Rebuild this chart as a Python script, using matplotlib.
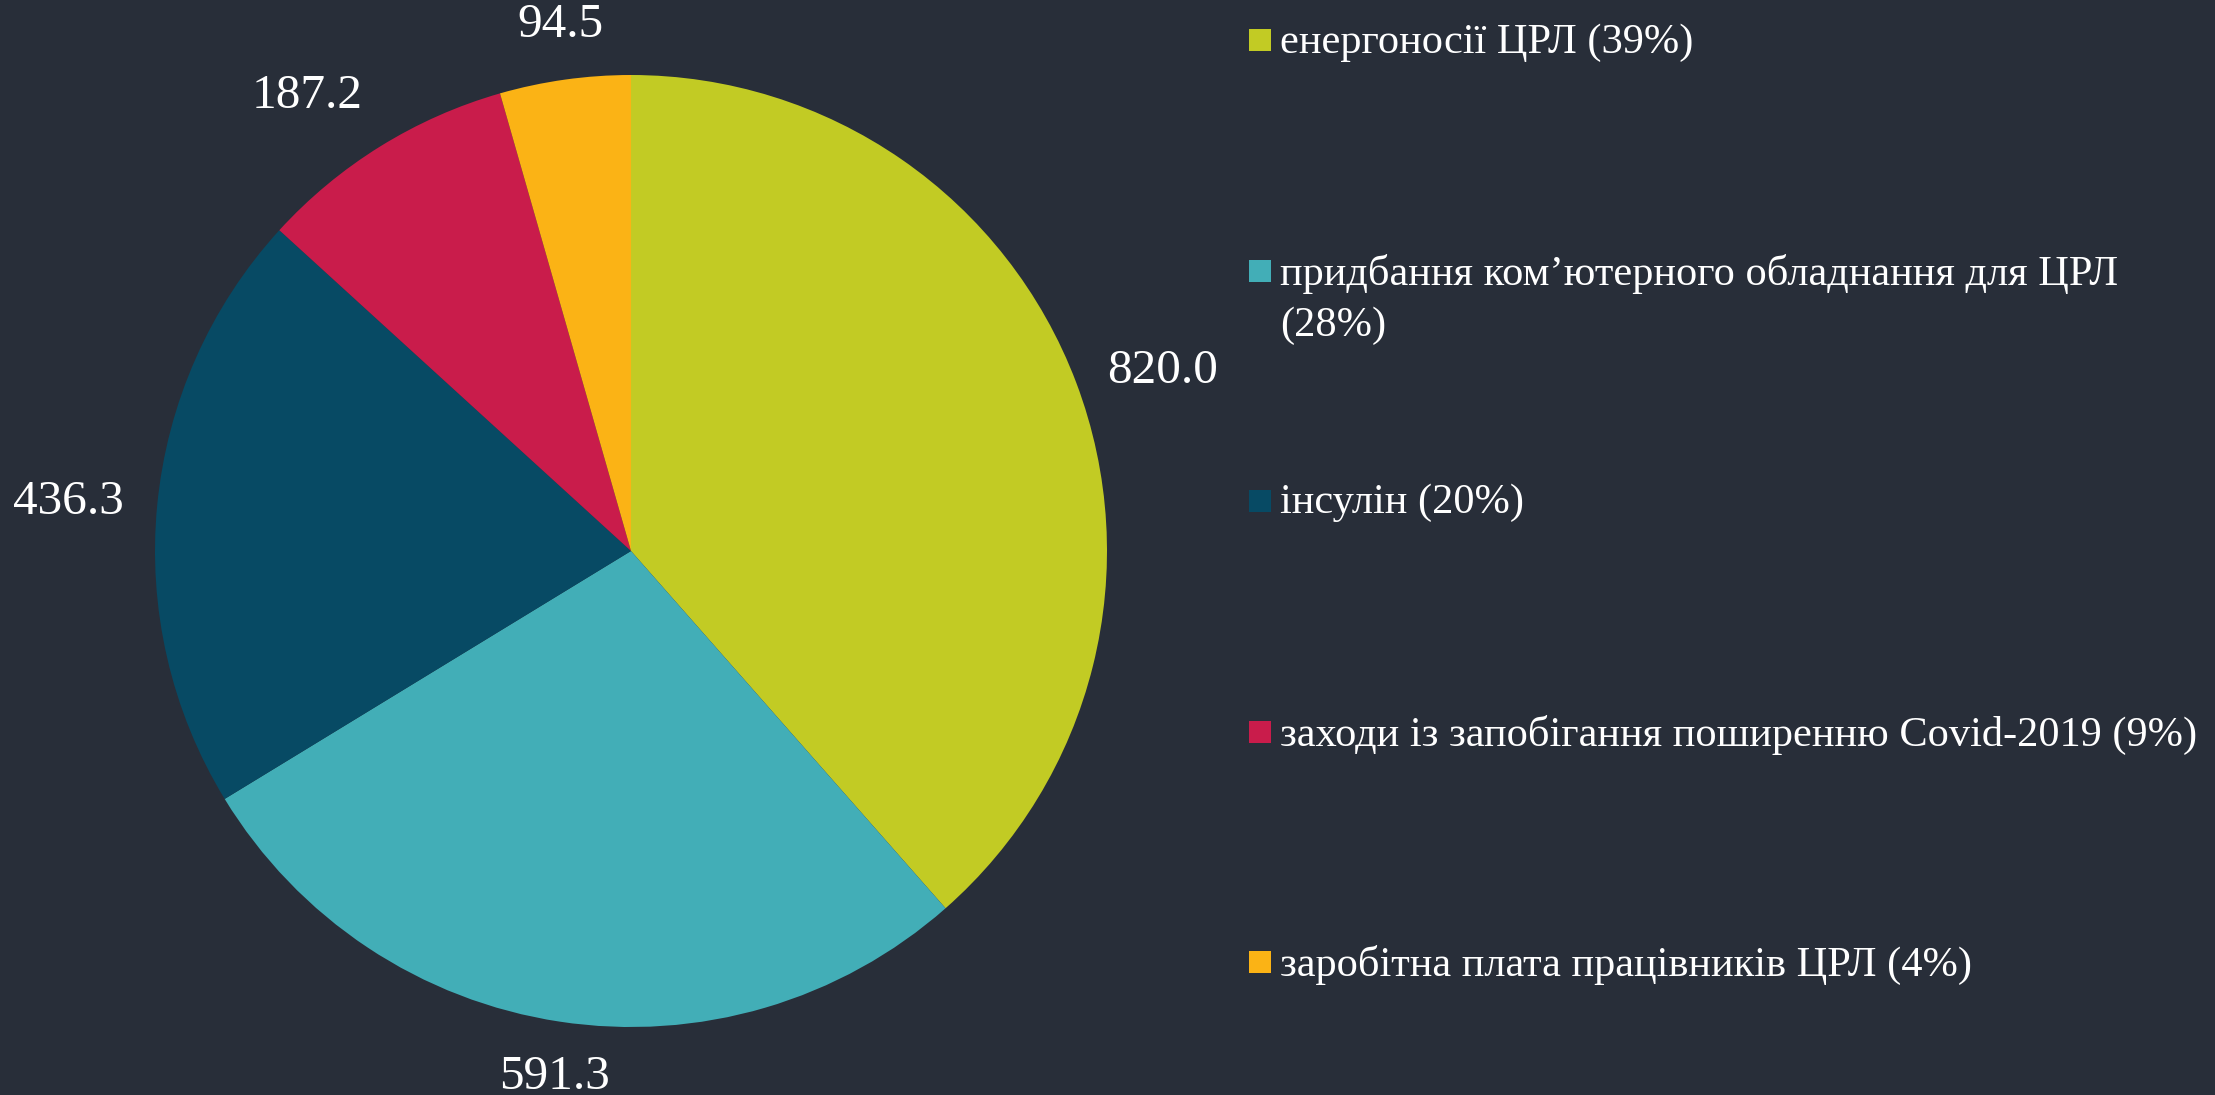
import numpy as np
import matplotlib

matplotlib.use("Agg")
import matplotlib.pyplot as plt
from matplotlib.patches import Rectangle

# data
categories = [
    "енергоносії ЦРЛ",
    "придбання ком’ютерного обладнання для ЦРЛ",
    "інсулін",
    "заходи із запобігання поширенню Covid-2019",
    "заробітна плата працівників ЦРЛ",
]
values = [820.0, 591.3, 436.3, 187.2, 94.5]
shares = [39, 28, 20, 9, 4]
colors = ["#c2cb24", "#42aeb7", "#074a64", "#c91c4b", "#fbb315"]

BG = "#282e39"
W, H = 2215, 1095

plt.rcParams["font.family"] = ["Liberation Serif", "DejaVu Serif"]

fig = plt.figure(figsize=(W / 100, H / 100), dpi=100, facecolor=BG)

# pie: centre (631, 551) px from top-left, radius 476 px
r_px = 476
ax = fig.add_axes([(631 - r_px) / W, (H - 551 - r_px) / H, 2 * r_px / W, 2 * r_px / H])
ax.set_facecolor(BG)
wedges, _ = ax.pie(
    values,
    colors=colors,
    startangle=90,
    counterclock=False,
    radius=1.0,
    wedgeprops=dict(linewidth=0),
)
ax.set_xlim(-1, 1)
ax.set_ylim(-1, 1)
ax.axis("off")

for wedge, val in zip(wedges, values):
    ang = np.deg2rad((wedge.theta1 + wedge.theta2) / 2)
    c, s = np.cos(ang), np.sin(ang)
    d = 1.07
    ha = "left" if c > 0.3 else ("right" if c < -0.3 else "center")
    va = "bottom" if s > 0.5 else ("top" if s < -0.5 else "center")
    ax.text(d * c, d * s, f"{val:.1f}", ha=ha, va=va, fontsize=35.5, color="white", clip_on=False)

# legend drawn by hand so the wrapped entry keeps its marker on the first line
row_centres = [40, 271, 501, 732, 962]
for i, (name, pct, col) in enumerate(zip(categories, shares, colors)):
    label = f"{name} ({pct}%)"
    if i == 1:
        label = f"{name}\n({pct}%)"
    yc = row_centres[i]
    fig.add_artist(Rectangle(((1249) / W, (H - yc - 11) / H), 22 / W, 22 / H,
                             transform=fig.transFigure, facecolor=col, edgecolor="none"))
    fig.text(1280 / W, (H - yc + 17) / H, label, ha="left", va="top", fontsize=30.5,
             color="white", linespacing=1.43)

fig.savefig("out.png", dpi=100, facecolor=BG)
